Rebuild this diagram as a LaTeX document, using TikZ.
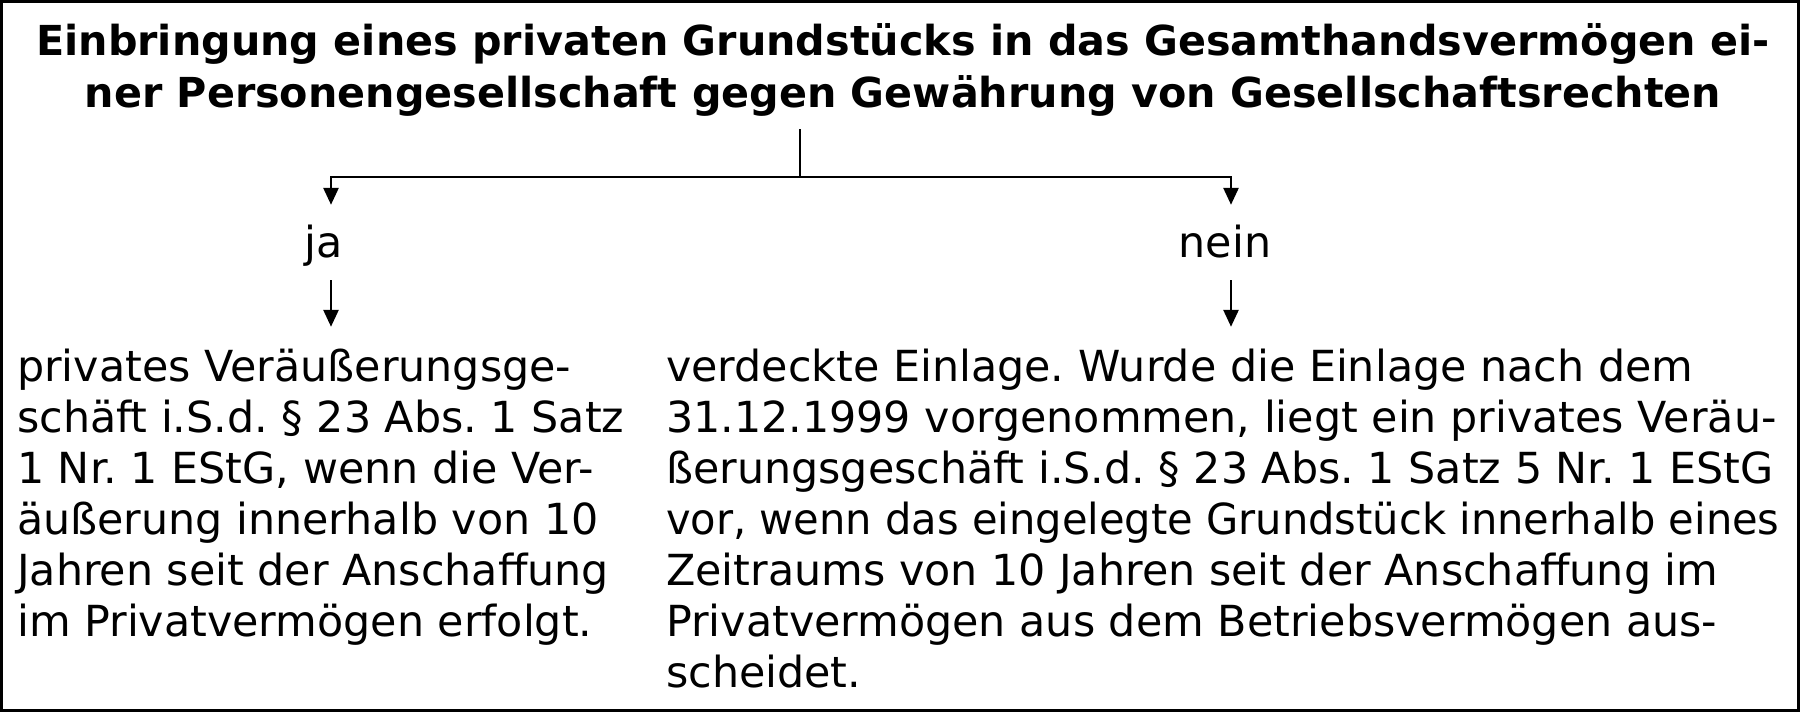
\documentclass[tikz,border=0pt]{standalone}
\usepackage{fontspec}
\setmainfont{DejaVu Sans}
\usetikzlibrary{arrows.meta}
\frenchspacing
\begin{document}
\begin{tikzpicture}[x=1pt,y=1pt,
  conn/.style={line width=2.7pt},
  arr/.style={conn,-{Triangle[length=17pt,width=15pt]}},
  body/.style={inner xsep=0pt,font=\fontsize{42.8pt}{51pt}\selectfont},
  lbl/.style={body,text height=40pt,text depth=11pt,inner ysep=12pt,anchor=base},
  txt/.style={body,anchor=base west,inner ysep=18.3pt},
  ttl/.style={anchor=base,inner xsep=0pt,inner ysep=6.4pt,font=\fontsize{41.3pt}{52pt}\selectfont\bfseries}
]
\useasboundingbox (0,0) rectangle (1803,-712);
\draw[line width=3pt] (1.5,-1.5) rectangle (1798.5,-710.5);
\node[ttl] (title) at (903,-55) {\begin{tabular}[t]{@{}c@{}}Einbringung eines privaten Grundstücks in das Gesamthandsvermögen ei-\\ner Personengesellschaft gegen Gewährung von Gesellschaftsrechten\end{tabular}};
\coordinate (split) at (800,-177);
\node[lbl] (ja) at (324,-257) {ja};
\node[lbl] (nein) at (1225,-257) {nein};
\node[txt] (left) at (17,-381) {\begin{tabular}[t]{@{}l@{}}privates Veräußerungsge-\\schäft i.S.d. § 23 Abs. 1 Satz\\1 Nr. 1 EStG, wenn die Ver-\\äußerung innerhalb von 10\\Jahren seit der Anschaffung\\im Privatvermögen erfolgt.\end{tabular}};
\node[txt] (right) at (666,-381) {\begin{tabular}[t]{@{}l@{}}verdeckte Einlage. Wurde die Einlage nach dem\\31.12.1999 vorgenommen, liegt ein privates Veräu-\\ßerungsgeschäft i.S.d. § 23 Abs. 1 Satz 5 Nr. 1 EStG\\\scalebox{0.972}[1]{vor, wenn das eingelegte Grundstück innerhalb eines}\\Zeitraums von 10 Jahren seit der Anschaffung im\\Privatvermögen aus dem Betriebsvermögen aus-\\scheidet.\end{tabular}};
\draw[conn] (title.south -| split) -- (split);
\draw[arr] (split) -| ([xshift=7pt]ja.north);
\draw[arr] (split) -| ([xshift=6pt]nein.north);
\draw[arr] ([xshift=7pt]ja.south) -- ([xshift=7pt]ja.south |- left.north);
\draw[arr] ([xshift=6pt]nein.south) -- ([xshift=6pt]nein.south |- right.north);
\end{tikzpicture}
\end{document}
